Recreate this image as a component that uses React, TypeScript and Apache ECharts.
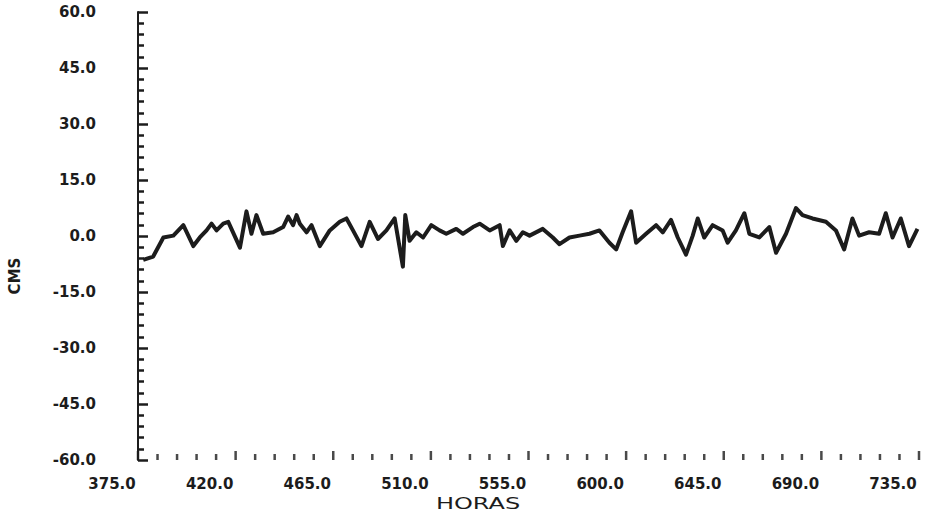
import React, { useEffect, useRef } from "react";
import * as echarts from "echarts";

// Hourly residual record (hours since start of series, level in cm)
const hours = [
  377.4, 382.0, 386.7, 391.3, 395.9, 400.5, 403.5, 406.6, 408.9, 411.2,
  414.3, 416.6, 422.0, 425.0, 427.3, 429.6, 432.7, 437.3, 441.9, 444.2,
  446.5, 448.1, 449.6, 452.7, 455.0, 458.8, 463.4, 468.0, 471.1, 474.1,
  478.0, 481.8, 485.6, 489.5, 493.3, 497.1, 498.2, 500.2, 503.3, 506.4,
  510.2, 514.0, 517.1, 521.7, 524.8, 529.4, 532.5, 537.1, 541.7, 543.2,
  546.3, 549.4, 552.4, 555.5, 561.6, 566.2, 569.3, 573.9, 578.5, 583.1,
  587.7, 592.3, 595.4, 598.4, 602.3, 604.6, 609.2, 613.8, 616.9, 620.7,
  623.8, 627.6, 630.7, 633.0, 636.0, 639.9, 644.5, 646.8, 650.6, 654.5,
  656.8, 661.4, 666.0, 669.1, 673.7, 678.3, 681.3, 685.9, 692.1, 696.7,
  700.5, 704.3, 707.4, 712.0, 716.6, 719.7, 722.8, 726.6, 730.4, 734.3,
];
const levels = [
  -6.4, -5.5, -0.4, 0.1, 2.9, -2.7, -0.4, 1.5, 3.3, 1.5,
  3.3, 3.8, -3.1, 6.6, 0.6, 5.6, 0.6, 1.0, 2.4, 5.2,
  2.9, 5.6, 3.3, 1.0, 2.9, -2.7, 1.5, 3.8, 4.7, 1.5,
  -2.7, 3.8, -0.8, 1.5, 4.7, -8.2, 5.6, -1.3, 1.0, -0.4,
  2.9, 1.5, 0.6, 1.9, 0.6, 2.4, 3.3, 1.5, 2.9, -2.7,
  1.5, -1.3, 1.0, 0.1, 1.9, -0.4, -2.2, -0.4, 0.1, 0.6,
  1.5, -1.8, -3.6, 1.0, 6.6, -1.8, 0.6, 2.9, 1.0, 4.3,
  -0.4, -5.0, 0.1, 4.7, -0.4, 2.9, 1.5, -1.8, 1.5, 6.1,
  0.6, -0.4, 2.4, -4.5, 0.6, 7.5, 5.6, 4.7, 3.8, 1.5,
  -3.6, 4.7, 0.1, 1.0, 0.6, 6.1, -0.4, 4.7, -2.7, 1.9,
];

// Hour labels and the 9-hour tick row along the time axis
const xLabelTicks = [375, 420, 465, 510, 555, 600, 645, 690, 735];
const xMinorTicks = [
  384, 393, 402, 411, 429, 438, 447, 456, 474, 483, 492, 501,
  519, 528, 537, 546, 564, 573, 582, 591, 609, 618, 627, 636,
  654, 663, 672, 681, 699, 708, 717, 726,
];
const xMin = 375;
const xMax = 735;
const yMin = -60;
const yMax = 60;
const yStep = 15;

const INK = "#1c1c1c";
const FONT = "DejaVu Sans";

export default function App() {
  const ref = useRef<HTMLDivElement>(null);

  useEffect(() => {
    document.body.style.margin = "0";
    if (!ref.current) return;
    const chart = echarts.init(ref.current, undefined, { renderer: "svg" });
    const series = hours.map((h, i) => [h, levels[i]]);

    chart.setOption({
      animation: false,
      backgroundColor: "#ffffff",
      grid: { left: 138, right: 8, top: 12, bottom: 56 },
      xAxis: {
        type: "value",
        min: xMin,
        max: xMax,
        axisLine: { show: false, onZero: false },
        splitLine: { show: false },
        axisTick: { show: false },
        axisLabel: {
          customValues: xLabelTicks,
          formatter: (v: number) => v.toFixed(1),
          color: INK,
          fontFamily: FONT,
          fontWeight: "bold",
          fontSize: 15,
          margin: 16,
          padding: [0, 52, 0, 0],
        },
      },
      yAxis: {
        type: "value",
        min: yMin,
        max: yMax,
        interval: yStep,
        splitLine: { show: false },
        axisLine: { show: true, lineStyle: { color: INK, width: 2 } },
        axisTick: {
          show: true,
          inside: true,
          length: 10,
          lineStyle: { color: INK, width: 2.5 },
        },
        minorTick: {
          show: true,
          splitNumber: 5,
          length: 6,
          lineStyle: { color: INK, width: 2.5 },
        },
        axisLabel: {
          formatter: (v: number) => v.toFixed(1),
          color: INK,
          fontFamily: FONT,
          fontWeight: "bold",
          fontSize: 15,
          margin: 42,
        },
      },
      graphic: [
        {
          type: "text",
          x: 478,
          y: 504,
          scaleX: 1.6,
          style: {
            text: "HORAS",
            fill: INK,
            font: `15px ${FONT}`,
            align: "center",
            verticalAlign: "middle",
          },
        },
        {
          type: "text",
          x: 15,
          y: 276,
          rotation: Math.PI / 2,
          style: {
            text: "CMS",
            fill: INK,
            font: `bold 15px ${FONT}`,
            align: "center",
            verticalAlign: "middle",
          },
        },
      ],
      series: [
        {
          // short tick marks every 9 hours, standing on the lower edge
          type: "scatter",
          data: xMinorTicks.map((h) => [h, yMin]),
          symbol: "rect",
          symbolSize: [2.5, 6],
          symbolOffset: [0, -3],
          itemStyle: { color: INK },
          clip: false,
          silent: true,
        },
        {
          // taller marks at the labelled hours
          type: "scatter",
          data: xLabelTicks.map((h) => [h, yMin]),
          symbol: "rect",
          symbolSize: [2.5, 9],
          symbolOffset: [0, -4.5],
          itemStyle: { color: INK },
          clip: false,
          silent: true,
        },
        {
          type: "line",
          data: series,
          showSymbol: false,
          lineStyle: { color: INK, width: 4, join: "round" },
        },
      ],
    });

    return () => chart.dispose();
  }, []);

  return <div ref={ref} style={{ width: 927, height: 516 }} />;
}
